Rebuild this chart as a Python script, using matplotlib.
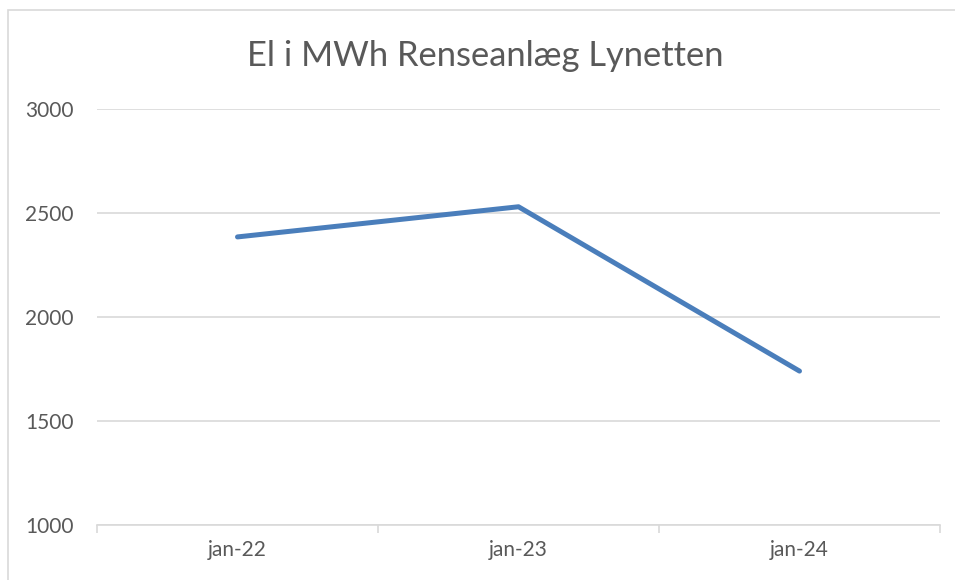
import matplotlib.pyplot as plt
from matplotlib.patches import Rectangle

# data
months = ['jan-22', 'jan-23', 'jan-24']
el_mwh = [2385, 2530, 1740]
y_ticks = [1000, 1500, 2000, 2500, 3000]

W, H = 955, 580
fig = plt.figure(figsize=(W / 100, H / 100), dpi=100)
plt.rcParams['font.family'] = ['Lato', 'DejaVu Sans']

# outer chart border (light grey, like an Excel chart area), cut off right/bottom
fig.patches.append(Rectangle((8 / W, -0.05), 1.1, 1.05 - 10 / H,
                             transform=fig.transFigure, fill=False,
                             edgecolor='#d9d9d9', linewidth=1.2))

ax = fig.add_axes([97 / W, 1 - 525 / H, (940 - 97) / W, (525 - 109) / H])
x = list(range(len(months)))
ax.plot(x, el_mwh, color='#4a7ebb', linewidth=3.6, solid_capstyle='round')

ax.set_xlim(-0.5, len(months) - 0.5)
ax.set_ylim(y_ticks[0], y_ticks[-1])
ax.set_yticks(y_ticks)
ax.set_xticks(x)
ax.set_xticklabels(months)
ax.set_xticks([i - 0.5 for i in range(len(months) + 1)], minor=True)

ax.grid(axis='y', color='#d9d9d9', linewidth=1.2)
ax.set_axisbelow(True)
for s in ['top', 'right', 'left']:
    ax.spines[s].set_visible(False)
ax.spines['bottom'].set_color('#d9d9d9')
ax.spines['bottom'].set_linewidth(1.2)

ax.tick_params(axis='y', length=0, pad=17, labelsize=15, labelcolor='#595959')
ax.tick_params(axis='x', which='major', length=0, pad=11, labelsize=15, labelcolor='#595959')
ax.tick_params(axis='x', which='minor', length=6, width=1.2, color='#d9d9d9')

fig.text(0.5 + 8 / W, 1 - 56 / H, 'El i MWh Renseanlæg Lynetten', ha='center', va='center',
         fontsize=24.8, color='#595959')

plt.savefig('out.png', dpi=100)
